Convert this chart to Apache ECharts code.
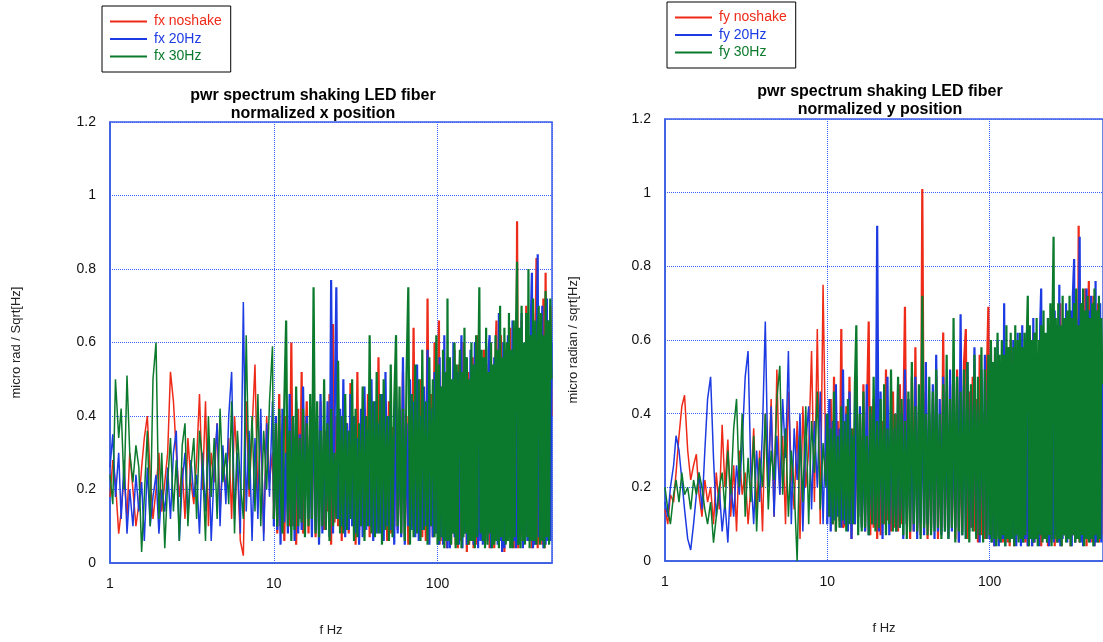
<!DOCTYPE html>
<html>
<head>
<meta charset="utf-8">
<title>pwr spectrum shaking LED fiber</title>
<script src="https://cdn.jsdelivr.net/npm/echarts@6/dist/echarts.min.js"></script>
<style>
  html, body { margin: 0; padding: 0; background: #fff; }
  #chart { width: 1103px; height: 642px; }
</style>
</head>
<body>
<div id="chart"></div>
<script>
// frequency bins (Hz), shared by both spectra
const freqs = [
  1.00, 1.04, 1.08, 1.13, 1.17, 1.22, 1.27, 1.32, 1.38, 1.44,
  1.50, 1.56, 1.62, 1.69, 1.76, 1.83, 1.91, 1.99, 2.07, 2.16,
  2.25, 2.34, 2.44, 2.54, 2.65, 2.76, 2.87, 2.99, 3.12, 3.25,
  3.38, 3.52, 3.67, 3.83, 3.99, 4.15, 4.33, 4.51, 4.70, 4.89,
  5.10, 5.31, 5.53, 5.76, 6.00, 6.25, 6.52, 6.79, 7.07, 7.37,
  7.68, 8.00, 8.33, 8.68, 9.05, 9.42, 9.82,
  10.0, 10.3, 10.5, 10.8, 11.0, 11.3, 11.6, 11.9, 12.2, 12.5,
  12.8, 13.1, 13.4, 13.7, 14.1, 14.4, 14.8, 15.1, 15.5, 15.9,
  16.3, 16.7, 17.1, 17.5, 18.0, 18.4, 18.9, 19.3, 19.8, 20.3,
  20.8, 21.3, 21.9, 22.4, 23.0, 23.5, 24.1, 24.7, 25.4, 26.0,
  26.6, 27.3, 28.0, 28.7, 29.4, 30.1, 30.9, 31.6, 32.4, 33.2,
  34.1, 34.9, 35.8, 36.7, 37.6, 38.5, 39.5, 40.5, 41.5, 42.5,
  43.6, 44.7, 45.8, 46.9, 48.1, 49.3, 50.5, 51.8, 53.1, 54.4,
  55.8, 57.1, 58.6, 60.0, 61.5, 63.1, 64.7, 66.3, 67.9, 69.6,
  71.4, 73.1, 75.0, 76.8, 78.7, 80.7, 82.7, 84.8, 86.9, 89.1,
  91.3, 93.6, 95.9, 98.3,
  100, 102, 103, 105, 107, 108, 110, 112, 114, 115,
  117, 119, 121, 123, 125, 127, 129, 131, 133, 135,
  137, 140, 142, 144, 146, 149, 151, 154, 156, 159,
  161, 164, 166, 169, 172, 175, 177, 180, 183, 186,
  189, 192, 195, 198, 202, 205, 208, 212, 215, 219,
  222, 226, 229, 233, 237, 241, 244, 248, 252, 256,
  261, 265, 269, 273, 278, 282, 287, 292, 296, 301,
  306, 311, 316, 321, 326, 332, 337, 342, 348, 354,
  359, 365, 371, 377, 383, 389, 396, 402, 409, 415,
  422, 429, 436, 443, 450, 457, 465, 472, 480, 488,
  496
]

// x position spectra (micro rad / Sqrt[Hz])
const fxNoshake = [
  0.18, 0.28, 0.22, 0.08, 0.14, 0.24, 0.12, 0.30, 0.20, 0.10,
  0.16, 0.26, 0.34, 0.40, 0.24, 0.12, 0.20, 0.30, 0.14, 0.22,
  0.30, 0.52, 0.44, 0.30, 0.18, 0.26, 0.12, 0.34, 0.22, 0.16,
  0.28, 0.46, 0.20, 0.44, 0.10, 0.30, 0.22, 0.38, 0.14, 0.28,
  0.20, 0.34, 0.12, 0.40, 0.26, 0.06, 0.02, 0.44, 0.18, 0.36,
  0.54, 0.16, 0.38, 0.08, 0.40, 0.22, 0.30,
  0.12, 0.36, 0.08, 0.46, 0.10, 0.30, 0.06, 0.40, 0.14, 0.10,
  0.60, 0.10, 0.34, 0.05, 0.42, 0.12, 0.52, 0.08, 0.28, 0.44,
  0.08, 0.38, 0.12, 0.50, 0.07, 0.33, 0.10, 0.44, 0.14, 0.09,
  0.36, 0.14, 0.46, 0.05, 0.65, 0.11, 0.40, 0.10, 0.34, 0.06,
  0.44, 0.10, 0.38, 0.08, 0.49, 0.13, 0.30, 0.05, 0.52, 0.09,
  0.36, 0.10, 0.42, 0.11, 0.46, 0.07, 0.34, 0.09, 0.40, 0.12,
  0.56, 0.09, 0.40, 0.10, 0.30, 0.06, 0.44, 0.08, 0.37, 0.10,
  0.48, 0.09, 0.35, 0.08, 0.52, 0.07, 0.40, 0.05, 0.46, 0.10,
  0.64, 0.12, 0.42, 0.09, 0.50, 0.07, 0.38, 0.06, 0.72, 0.10,
  0.46, 0.07, 0.60, 0.08,
  0.40, 0.66, 0.05, 0.48, 0.06, 0.52, 0.08, 0.44, 0.04, 0.56,
  0.07, 0.50, 0.05, 0.46, 0.10, 0.58, 0.05, 0.42, 0.04, 0.54,
  0.06, 0.48, 0.09, 0.60, 0.08, 0.44, 0.03, 0.52, 0.05, 0.40,
  0.08, 0.56, 0.04, 0.46, 0.05, 0.62, 0.07, 0.50, 0.09, 0.44,
  0.06, 0.58, 0.05, 0.48, 0.08, 0.54, 0.04, 0.60, 0.06, 0.46,
  0.04, 0.56, 0.66, 0.07, 0.50, 0.06, 0.62, 0.05, 0.52, 0.03,
  0.58, 0.06, 0.48, 0.08, 0.64, 0.05, 0.55, 0.04, 0.60, 0.07,
  0.93, 0.04, 0.58, 0.07, 0.66, 0.05, 0.52, 0.06, 0.70, 0.08,
  0.62, 0.06, 0.56, 0.04, 0.68, 0.05, 0.60, 0.83, 0.04, 0.58,
  0.06, 0.64, 0.05, 0.72, 0.04, 0.79, 0.08, 0.60, 0.07, 0.70,
  0.40
]
const fx20Hz = [
  0.26, 0.35, 0.18, 0.30, 0.12, 0.28, 0.08, 0.20, 0.10, 0.24,
  0.14, 0.22, 0.06, 0.26, 0.10, 0.18, 0.24, 0.08, 0.20, 0.14,
  0.26, 0.12, 0.30, 0.36, 0.06, 0.22, 0.30, 0.12, 0.28, 0.18,
  0.24, 0.08, 0.30, 0.14, 0.34, 0.06, 0.26, 0.38, 0.10, 0.32,
  0.16, 0.40, 0.52, 0.12, 0.30, 0.08, 0.71, 0.14, 0.36, 0.06,
  0.34, 0.12, 0.42, 0.06, 0.38, 0.18, 0.44,
  0.10, 0.40, 0.09, 0.36, 0.05, 0.42, 0.11, 0.30, 0.08, 0.46,
  0.10, 0.38, 0.06, 0.44, 0.08, 0.35, 0.09, 0.48, 0.12, 0.40,
  0.12, 0.34, 0.07, 0.52, 0.09, 0.40, 0.05, 0.46, 0.08, 0.36,
  0.10, 0.44, 0.07, 0.77, 0.08, 0.36, 0.75, 0.12, 0.42, 0.10,
  0.50, 0.07, 0.38, 0.09, 0.46, 0.10, 0.40, 0.08, 0.34, 0.05,
  0.42, 0.07, 0.48, 0.09, 0.36, 0.10, 0.50, 0.06, 0.44, 0.08,
  0.38, 0.08, 0.46, 0.06, 0.52, 0.10, 0.40, 0.09, 0.34, 0.05,
  0.48, 0.08, 0.42, 0.07, 0.56, 0.05, 0.38, 0.10, 0.50, 0.09,
  0.44, 0.07, 0.54, 0.06, 0.40, 0.09, 0.48, 0.10, 0.58, 0.05,
  0.42, 0.07, 0.52, 0.08,
  0.46, 0.05, 0.56, 0.07, 0.40, 0.05, 0.62, 0.06, 0.50, 0.04,
  0.54, 0.04, 0.44, 0.08, 0.60, 0.07, 0.48, 0.06, 0.52, 0.05,
  0.40, 0.62, 0.04, 0.50, 0.08, 0.56, 0.05, 0.46, 0.06, 0.58,
  0.08, 0.52, 0.05, 0.60, 0.07, 0.44, 0.04, 0.56, 0.06, 0.48,
  0.05, 0.54, 0.08, 0.46, 0.06, 0.58, 0.62, 0.04, 0.50, 0.07,
  0.56, 0.08, 0.48, 0.05, 0.68, 0.06, 0.54, 0.03, 0.60, 0.04,
  0.50, 0.06, 0.62, 0.07, 0.56, 0.05, 0.66, 0.06, 0.52, 0.04,
  0.60, 0.05, 0.58, 0.08, 0.68, 0.04, 0.54, 0.07, 0.64, 0.06,
  0.58, 0.06, 0.66, 0.79, 0.04, 0.62, 0.05, 0.56, 0.84, 0.07,
  0.64, 0.08, 0.70, 0.04, 0.58, 0.05, 0.72, 0.06, 0.66, 0.06,
  0.60
]
const fx30Hz = [
  0.24, 0.16, 0.50, 0.34, 0.42, 0.20, 0.51, 0.30, 0.22, 0.32,
  0.26, 0.03, 0.18, 0.36, 0.10, 0.50, 0.60, 0.12, 0.30, 0.04,
  0.22, 0.34, 0.14, 0.28, 0.06, 0.32, 0.38, 0.10, 0.26, 0.34,
  0.12, 0.36, 0.28, 0.06, 0.40, 0.18, 0.34, 0.12, 0.42, 0.22,
  0.30, 0.16, 0.44, 0.08, 0.36, 0.22, 0.12, 0.62, 0.20, 0.40,
  0.14, 0.46, 0.10, 0.36, 0.20, 0.44, 0.59,
  0.12, 0.38, 0.10, 0.42, 0.20, 0.08, 0.44, 0.66, 0.10, 0.36,
  0.06, 0.40, 0.09, 0.48, 0.10, 0.34, 0.11, 0.42, 0.07, 0.38,
  0.10, 0.46, 0.12, 0.75, 0.08, 0.44, 0.07, 0.36, 0.10, 0.50,
  0.09, 0.38, 0.06, 0.42, 0.10, 0.30, 0.12, 0.55, 0.08, 0.40,
  0.08, 0.46, 0.09, 0.36, 0.12, 0.50, 0.06, 0.42, 0.07, 0.38,
  0.10, 0.48, 0.06, 0.40, 0.10, 0.62, 0.08, 0.44, 0.07, 0.52,
  0.08, 0.46, 0.05, 0.50, 0.09, 0.40, 0.06, 0.54, 0.07, 0.44,
  0.62, 0.10, 0.48, 0.08, 0.42, 0.06, 0.52, 0.75, 0.05, 0.46,
  0.07, 0.54, 0.08, 0.50, 0.06, 0.58, 0.09, 0.44, 0.05, 0.56,
  0.10, 0.50, 0.07, 0.62,
  0.05, 0.54, 0.06, 0.48, 0.07, 0.58, 0.04, 0.52, 0.06, 0.72,
  0.06, 0.56, 0.05, 0.50, 0.08, 0.60, 0.04, 0.54, 0.05, 0.46,
  0.58, 0.04, 0.52, 0.07, 0.64, 0.08, 0.56, 0.05, 0.50, 0.06,
  0.60, 0.06, 0.54, 0.04, 0.62, 0.07, 0.48, 0.75, 0.08, 0.58,
  0.06, 0.56, 0.04, 0.64, 0.05, 0.52, 0.08, 0.60, 0.04, 0.54,
  0.05, 0.62, 0.06, 0.58, 0.04, 0.70, 0.07, 0.56, 0.06, 0.64,
  0.05, 0.60, 0.06, 0.68, 0.04, 0.58, 0.04, 0.66, 0.07, 0.62,
  0.82, 0.05, 0.64, 0.04, 0.70, 0.06, 0.60, 0.05, 0.68, 0.07,
  0.80, 0.04, 0.62, 0.06, 0.72, 0.06, 0.66, 0.05, 0.60, 0.70,
  0.05, 0.68, 0.06, 0.62, 0.04, 0.74, 0.07, 0.66, 0.05, 0.72,
  0.50
]

// y position spectra (micro radian / sqrt[Hz])
const fyNoshake = [
  0.14, 0.10, 0.18, 0.16, 0.24, 0.34, 0.42, 0.45, 0.30, 0.22,
  0.26, 0.29, 0.18, 0.12, 0.22, 0.16, 0.20, 0.10, 0.24, 0.14,
  0.37, 0.20, 0.33, 0.12, 0.26, 0.08, 0.30, 0.18, 0.24, 0.10,
  0.20, 0.36, 0.14, 0.30, 0.08, 0.40, 0.22, 0.44, 0.12, 0.52,
  0.18, 0.34, 0.10, 0.46, 0.24, 0.14, 0.38, 0.06, 0.42, 0.20,
  0.30, 0.57, 0.16, 0.63, 0.10, 0.75, 0.22,
  0.36, 0.12, 0.44, 0.10, 0.50, 0.08, 0.38, 0.11, 0.63, 0.09,
  0.10, 0.42, 0.09, 0.50, 0.06, 0.36, 0.10, 0.46, 0.12, 0.40,
  0.10, 0.48, 0.08, 0.38, 0.65, 0.07, 0.42, 0.09, 0.34, 0.06,
  0.44, 0.07, 0.38, 0.10, 0.52, 0.11, 0.30, 0.08, 0.46, 0.09,
  0.40, 0.08, 0.48, 0.10, 0.36, 0.69, 0.10, 0.44, 0.06, 0.50,
  0.08, 0.58, 0.09, 0.40, 0.07, 1.01, 0.10, 0.46, 0.06, 0.38,
  0.08, 0.44, 0.10, 0.50, 0.06, 0.36, 0.08, 0.62, 0.09, 0.40,
  0.07, 0.48, 0.09, 0.42, 0.06, 0.52, 0.05, 0.38, 0.08, 0.54,
  0.63, 0.06, 0.46, 0.09, 0.50, 0.08, 0.44, 0.05, 0.56, 0.07,
  0.40, 0.06, 0.48, 0.69,
  0.06, 0.52, 0.07, 0.46, 0.04, 0.56, 0.08, 0.42, 0.05, 0.50,
  0.06, 0.54, 0.05, 0.48, 0.07, 0.58, 0.05, 0.44, 0.04, 0.60,
  0.07, 0.50, 0.04, 0.56, 0.06, 0.52, 0.08, 0.46, 0.05, 0.58,
  0.06, 0.54, 0.05, 0.60, 0.04, 0.50, 0.07, 0.56, 0.04, 0.62,
  0.05, 0.58, 0.07, 0.52, 0.06, 0.62, 0.04, 0.54, 0.06, 0.60,
  0.06, 0.56, 0.04, 0.64, 0.05, 0.58, 0.07, 0.66, 0.04, 0.54,
  0.05, 0.62, 0.06, 0.70, 0.04, 0.58, 0.07, 0.66, 0.06, 0.60,
  0.06, 0.68, 0.04, 0.62, 0.07, 0.72, 0.05, 0.64, 0.06, 0.91,
  0.05, 0.70, 0.06, 0.66, 0.07, 0.74, 0.04, 0.62, 0.76, 0.06,
  0.68, 0.05, 0.72, 0.04, 0.64, 0.06, 0.70, 0.05, 0.66, 0.07,
  0.50
]
const fy20Hz = [
  0.16, 0.12, 0.20, 0.26, 0.34, 0.30, 0.22, 0.14, 0.06, 0.03,
  0.10, 0.18, 0.24, 0.14, 0.30, 0.44, 0.50, 0.28, 0.12, 0.20,
  0.08, 0.16, 0.05, 0.22, 0.12, 0.26, 0.18, 0.32, 0.50, 0.57,
  0.24, 0.10, 0.30, 0.16, 0.36, 0.65, 0.20, 0.42, 0.12, 0.34,
  0.18, 0.44, 0.28, 0.57, 0.10, 0.36, 0.22, 0.40, 0.08, 0.32,
  0.42, 0.14, 0.38, 0.20, 0.46, 0.10, 0.40,
  0.10, 0.44, 0.08, 0.38, 0.11, 0.48, 0.12, 0.36, 0.09, 0.52,
  0.10, 0.40, 0.08, 0.46, 0.06, 0.34, 0.10, 0.50, 0.12, 0.42,
  0.09, 0.36, 0.08, 0.48, 0.07, 0.40, 0.10, 0.44, 0.10, 0.91,
  0.08, 0.46, 0.06, 0.38, 0.10, 0.50, 0.07, 0.42, 0.09, 0.36,
  0.08, 0.48, 0.09, 0.40, 0.06, 0.52, 0.10, 0.44, 0.08, 0.38,
  0.08, 0.50, 0.06, 0.42, 0.10, 0.46, 0.07, 0.54, 0.10, 0.40,
  0.09, 0.48, 0.06, 0.56, 0.08, 0.44, 0.07, 0.50, 0.08, 0.46,
  0.06, 0.52, 0.08, 0.44, 0.09, 0.50, 0.05, 0.67, 0.07, 0.48,
  0.06, 0.54, 0.08, 0.46, 0.09, 0.58, 0.07, 0.44, 0.05, 0.52,
  0.08, 0.56, 0.06, 0.50,
  0.06, 0.58, 0.05, 0.52, 0.04, 0.48, 0.07, 0.60, 0.04, 0.54,
  0.05, 0.56, 0.06, 0.70, 0.04, 0.52, 0.07, 0.58, 0.06, 0.50,
  0.06, 0.60, 0.05, 0.54, 0.04, 0.62, 0.07, 0.56, 0.04, 0.64,
  0.05, 0.58, 0.06, 0.62, 0.04, 0.54, 0.07, 0.60, 0.04, 0.66,
  0.05, 0.62, 0.06, 0.56, 0.04, 0.64, 0.74, 0.07, 0.58, 0.06,
  0.60, 0.05, 0.66, 0.04, 0.58, 0.06, 0.62, 0.05, 0.68, 0.07,
  0.64, 0.05, 0.75, 0.04, 0.60, 0.06, 0.66, 0.07, 0.70, 0.05,
  0.62, 0.06, 0.68, 0.04, 0.72, 0.82, 0.05, 0.66, 0.07, 0.60,
  0.88, 0.05, 0.70, 0.04, 0.64, 0.06, 0.74, 0.06, 0.68, 0.05,
  0.72, 0.06, 0.66, 0.04, 0.76, 0.05, 0.62, 0.07, 0.70, 0.05,
  0.56
]
const fy30Hz = [
  0.20, 0.14, 0.10, 0.18, 0.22, 0.16, 0.24, 0.18, 0.20, 0.14,
  0.22, 0.18, 0.24, 0.20, 0.14, 0.10, 0.16, 0.05, 0.12, 0.20,
  0.24, 0.14, 0.30, 0.18, 0.36, 0.44, 0.20, 0.40, 0.12, 0.28,
  0.16, 0.34, 0.08, 0.28, 0.20, 0.40, 0.14, 0.30, 0.22, 0.44,
  0.53, 0.18, 0.36, 0.12, 0.30, 0.20, 0.00, 0.34, 0.16, 0.42,
  0.10, 0.38, 0.24, 0.46, 0.14, 0.32, 0.20,
  0.40, 0.12, 0.36, 0.10, 0.46, 0.08, 0.34, 0.09, 0.42, 0.11,
  0.38, 0.08, 0.44, 0.10, 0.36, 0.10, 0.48, 0.64, 0.07, 0.40,
  0.08, 0.46, 0.09, 0.34, 0.07, 0.42, 0.10, 0.50, 0.08, 0.38,
  0.09, 0.44, 0.10, 0.48, 0.07, 0.36, 0.10, 0.52, 0.08, 0.40,
  0.08, 0.50, 0.09, 0.44, 0.07, 0.38, 0.06, 0.46, 0.08, 0.54,
  0.10, 0.42, 0.08, 0.48, 0.06, 0.72, 0.09, 0.40, 0.07, 0.50,
  0.07, 0.46, 0.08, 0.52, 0.09, 0.40, 0.06, 0.48, 0.08, 0.56,
  0.06, 0.44, 0.09, 0.66, 0.05, 0.50, 0.08, 0.46, 0.07, 0.52,
  0.06, 0.54, 0.05, 0.48, 0.08, 0.56, 0.06, 0.50, 0.07, 0.58,
  0.05, 0.52, 0.06, 0.56,
  0.07, 0.60, 0.05, 0.54, 0.06, 0.58, 0.04, 0.62, 0.06, 0.56,
  0.05, 0.60, 0.07, 0.56, 0.04, 0.64, 0.06, 0.58, 0.05, 0.62,
  0.06, 0.58, 0.04, 0.64, 0.07, 0.60, 0.05, 0.62, 0.06, 0.58,
  0.05, 0.62, 0.07, 0.58, 0.72, 0.04, 0.64, 0.06, 0.60, 0.05,
  0.62, 0.06, 0.66, 0.04, 0.60, 0.07, 0.64, 0.05, 0.68, 0.06,
  0.62, 0.05, 0.66, 0.07, 0.70, 0.04, 0.64, 0.88, 0.06, 0.66,
  0.05, 0.70, 0.06, 0.64, 0.04, 0.72, 0.07, 0.66, 0.05, 0.68,
  0.06, 0.72, 0.04, 0.66, 0.07, 0.70, 0.05, 0.74, 0.06, 0.64,
  0.05, 0.70, 0.07, 0.74, 0.04, 0.68, 0.06, 0.72, 0.05, 0.66,
  0.06, 0.70, 0.04, 0.74, 0.07, 0.68, 0.05, 0.72, 0.06, 0.66,
  0.48
]

const yTicks = [0, 0.2, 0.4, 0.6, 0.8, 1, 1.2]

const RED = '#ee2a18'
const BLUE = '#1c3be2'
const GREEN = '#0b7a2c'
const FRAME = '#3a5ce0'
const GRID = '#3d62ff'
const FONT = '"Liberation Sans", Arial, sans-serif'

// bins from 10 Hz up are packed tight, drawn a bit heavier so the band closes up
const DENSE_FROM = freqs.indexOf(10.0)

function xAxis(idx) {
  return {
    type: 'log', logBase: 10, gridIndex: idx, min: 1, max: 500,
    name: 'f Hz', nameLocation: 'middle', nameGap: 61,
    nameTextStyle: {color: '#222', fontSize: 13, fontFamily: FONT},
    axisLine: {lineStyle: {color: FRAME, width: 1.5}},
    axisTick: {show: false},
    axisLabel: {color: '#111', fontSize: 14, fontFamily: FONT, margin: 14, showMaxLabel: false},
    splitLine: {show: true, lineStyle: {color: GRID, type: 'dotted', width: 1}},
  }
}

function yAxis(idx, name, gap) {
  return {
    type: 'value', gridIndex: idx, min: yTicks[0], max: yTicks[yTicks.length - 1], interval: 0.2,
    name, nameLocation: 'middle', nameGap: gap, nameRotate: 90,
    nameTextStyle: {color: '#222', fontSize: 13, fontFamily: FONT},
    axisLine: {show: true, lineStyle: {color: FRAME, width: 1.5}},
    axisTick: {show: false},
    axisLabel: {color: '#111', fontSize: 14, fontFamily: FONT, margin: 14},
    splitLine: {show: true, lineStyle: {color: GRID, type: 'dotted', width: 1}},
  }
}

function lines(name, values, color, idx) {
  const pts = freqs.map((f, i) => [f, values[i]])
  const base = {
    name, type: 'line', xAxisIndex: idx, yAxisIndex: idx,
    symbol: 'none', showSymbol: false, silent: true, itemStyle: {color},
  }
  return [
    {...base, data: pts.slice(0, DENSE_FROM + 1), lineStyle: {color, width: 1.5}},
    {...base, data: pts.slice(DENSE_FROM), lineStyle: {color, width: 2.2}},
  ]
}

function legend(left, top, names) {
  const colors = [RED, BLUE, GREEN]
  return {
    left, top, orient: 'vertical', selectedMode: false,
    backgroundColor: '#fff', borderColor: '#000', borderWidth: 1,
    padding: [8, 9, 8, 8], itemGap: 2.5, itemWidth: 37, itemHeight: 2, icon: 'rect',
    textStyle: {fontSize: 14, fontFamily: FONT, lineHeight: 15, padding: [0, 0, 0, 2]},
    data: names.map((n, i) => ({name: n, textStyle: {color: colors[i]}})),
  }
}

function title(text, left, top) {
  return {
    text, left, top, textAlign: 'center',
    textStyle: {fontSize: 16, fontWeight: 'bold', fontFamily: FONT, color: '#000', lineHeight: 18},
  }
}

const chart = echarts.init(document.getElementById('chart'))
chart.setOption({
  animation: false,
  backgroundColor: '#fff',
  title: [
    title('pwr spectrum shaking LED fiber\nnormalized x position', 308, 82),
    title('pwr spectrum shaking LED fiber\nnormalized y position', 875, 78),
  ],
  legend: [
    legend(102, 6, ['fx noshake', 'fx 20Hz', 'fx 30Hz']),
    legend(667, 2, ['fy noshake', 'fy 20Hz', 'fy 30Hz']),
  ],
  grid: [
    {left: 110, top: 122, width: 442, height: 441, show: true, borderColor: FRAME, borderWidth: 1.5},
    {left: 665, top: 119, width: 442, height: 442, show: true, borderColor: FRAME, borderWidth: 1.5},
  ],
  xAxis: [xAxis(0), xAxis(1)],
  yAxis: [yAxis(0, 'micro rad / Sqrt[Hz]', 87), yAxis(1, 'micro radian / sqrt[Hz]', 85)],
  series: [
    ...lines('fx noshake', fxNoshake, RED, 0),
    ...lines('fx 20Hz', fx20Hz, BLUE, 0),
    ...lines('fx 30Hz', fx30Hz, GREEN, 0),
    ...lines('fy noshake', fyNoshake, RED, 1),
    ...lines('fy 20Hz', fy20Hz, BLUE, 1),
    ...lines('fy 30Hz', fy30Hz, GREEN, 1),
  ],
})
</script>
</body>
</html>
